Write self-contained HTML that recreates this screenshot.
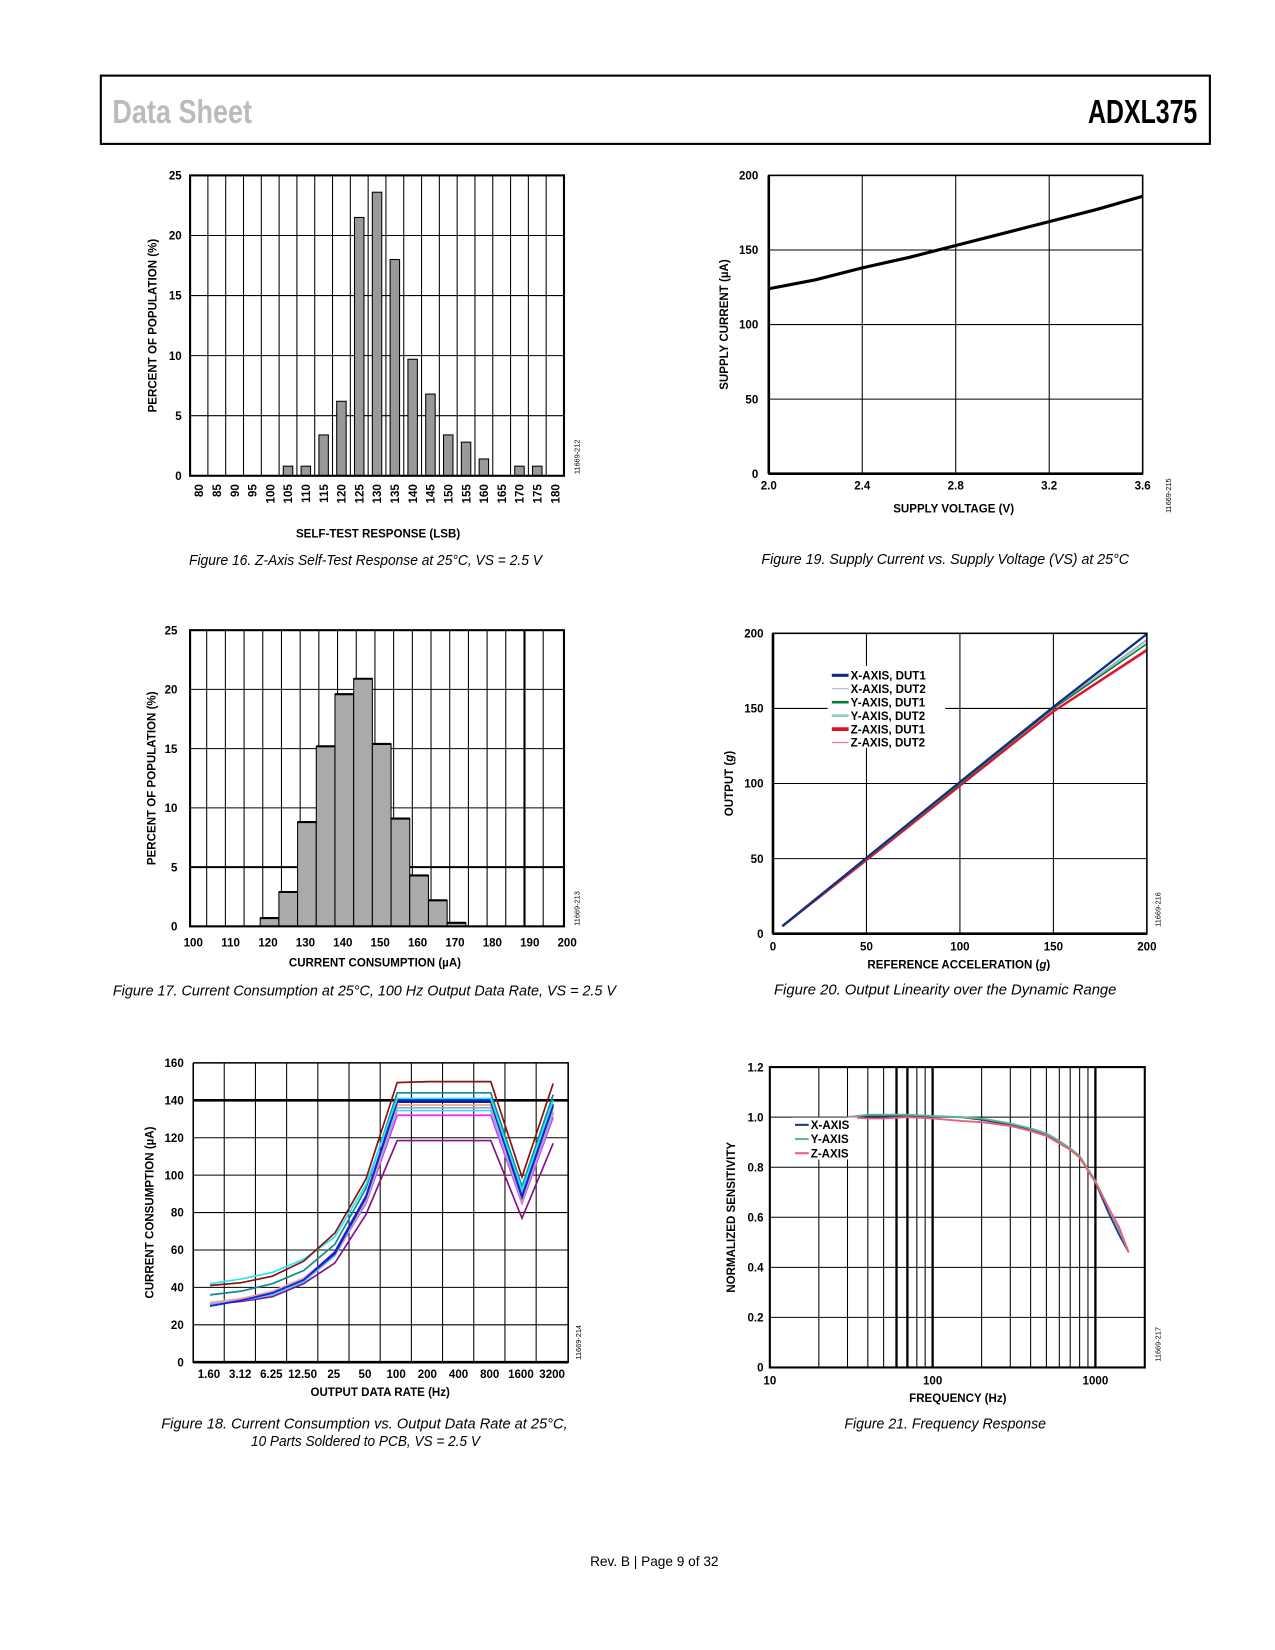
<!DOCTYPE html>
<html><head><meta charset="utf-8">
<style>
html,body{margin:0;padding:0;background:#fff;}
svg{display:block;}
text{font-family:"Liberation Sans",sans-serif;}
.tk{font-size:11px;font-weight:bold;}
.tt{font-size:11px;font-weight:bold;}
.cap{font-family:"Liberation Sans Narrow","Liberation Sans",sans-serif;font-style:italic;font-size:14px;}
.id{font-size:7px;}
</style></head>
<body>
<svg id="pg" width="1275" height="1650" viewBox="0 0 1214 1571" preserveAspectRatio="none" xmlns="http://www.w3.org/2000/svg">
<rect x="96" y="72" width="1056" height="65" fill="none" stroke="#000" stroke-width="2"/>
<text x="107" y="117" font-family="Liberation Sans Narrow,Liberation Sans,sans-serif" font-weight="bold" font-size="32" fill="#bbb" textLength="133" lengthAdjust="spacingAndGlyphs">Data Sheet</text>
<text x="1036" y="117" font-family="Liberation Sans Narrow,Liberation Sans,sans-serif" font-weight="bold" font-size="32" fill="#000" textLength="104" lengthAdjust="spacingAndGlyphs">ADXL375</text>
<text x="623" y="1491" text-anchor="middle" font-size="13">Rev. B | Page 9 of 32</text>
<g id="content"></g>
</svg>
<script>
// ---------- DATA ----------
const f16Cats=[80,85,90,95,100,105,110,115,120,125,130,135,140,145,150,155,160,165,170,175,180];
const f16Vals=[0,0,0,0,0,0.8,0.8,3.4,6.2,21.5,23.6,18,9.7,6.8,3.4,2.8,1.4,0,0.8,0.8,0];
const f16YTicks=[0,5,10,15,20,25];

const f17BinStarts=[118.75,123.75,128.75,133.75,138.75,143.75,148.75,153.75,158.75,163.75,168.75];
const f17Vals=[0.7,2.9,8.8,15.2,19.6,20.9,15.4,9.1,4.3,2.2,0.3];
const f17XTicks=[100,110,120,130,140,150,160,170,180,190,200];
const f17YTicks=[0,5,10,15,20,25];

const f18Cats=["1.60","3.12","6.25","12.50","25","50","100","200","400","800","1600","3200"];
const f18S1=[41,42.5,46,54,69,98,149.5,150,150,150,99,149];
const f18S2=[42,44.5,48,55,67,95,141,141,141,141,92,140];
const f18S3=[36,38,42,49,63,93,144,144,144,144,94,143];
const f18S4=[30,33,37,44,59,89,140,140,140,140,89,138];
const f18S5=[30,33,37,44,58,88,139,139,139,139,88,137];
const f18S6=[32,34,38,45,58,87,137.5,137.5,137.5,137.5,87,136];
const f18S7=[31,33.5,37,44,57,87,136,136,136,136,86,134];
const f18S8=[31,33,36,43,57,86,134.5,134.5,134.5,134.5,86,133];
const f18S9=[31,33,36,43,57,85,132,132,132,132,85,131];
const f18S10=[31,32.5,35,42,53,79,118.5,118.5,118.5,118.5,77,117];
const f18YTicks=[0,20,40,60,80,100,120,140,160];

const f19X=[2.0,2.2,2.4,2.6,2.8,3.0,3.2,3.4,3.6];
const f19Y=[124,130,138,145,153,161,169,177,186];
const f19XTicks=[2.0,2.4,2.8,3.2,3.6];
const f19YTicks=[0,50,100,150,200];

const f20X=[5,50,100,150,200];
const f20X1=[5,50.5,101,151,199.5];
const f20X2=[5,50,100.5,150.5,196];
const f20Y1=[5,50,100,150,193];
const f20Y2=[5,50,100,150,195];
const f20Z1=[5,49,98.5,148,189];
const f20Z2=[5,49,98,147.5,188];
const f20Ticks=[0,50,100,150,200];

const f21F=[30,40,50,70,100,150,200,300,400,500,600,700,800,1000,1200,1400,1600];
const f21X=[1.0,1.005,1.005,1.005,1.003,1.0,0.99,0.97,0.95,0.93,0.90,0.87,0.84,0.74,0.62,0.53,0.46];
const f21Y=[1.0,1.01,1.01,1.01,1.005,1.0,0.995,0.975,0.955,0.935,0.905,0.875,0.845,0.745,0.64,0.55,0.46];
const f21Z=[1.0,0.995,0.995,1.0,0.995,0.985,0.98,0.965,0.945,0.925,0.895,0.87,0.84,0.74,0.64,0.56,0.46];
const f21YTicks=[0,0.2,0.4,0.6,0.8,1.0,1.2];

// ---------- HELPERS ----------
const NS="http://www.w3.org/2000/svg";
const root=document.getElementById('content');
function mk(tag,a,parent){const e=document.createElementNS(NS,tag);for(const k in a)e.setAttribute(k,a[k]);(parent||root).appendChild(e);return e;}
function txt(x,y,s,cls,anchor,rot,tl){const e=mk('text',{x:x,y:y,'class':cls,'text-anchor':anchor||'middle'});if(rot)e.setAttribute('transform','rotate(-90 '+x+' '+y+')');if(tl){e.setAttribute('textLength',tl);e.setAttribute('lengthAdjust','spacingAndGlyphs');}e.textContent=s;return e;}
function lin(x1,y1,x2,y2,w){return mk('line',{x1:x1,y1:y1,x2:x2,y2:y2,stroke:'#000','stroke-width':w||1});}

// ---------- FIG 16 ----------
(function(){
const L=181,R=537,T=167,B=453;
const cw=(R-L)/f16Cats.length;
const xc=i=>L+cw*(i+0.5);
const y=v=>B-(v/25)*(B-T);
for(let i=1;i<f16Cats.length;i++){const g=lin(L+cw*i,T,L+cw*i,B,1);}
f16YTicks.forEach(t=>{const g=lin(L,y(t),R,y(t),1);
 const l=txt(L-8,y(t)+4,String(t),'tk','end');});
f16Vals.forEach((v,i)=>{if(v<=0)return;const b=mk('rect',{x:xc(i)-4.5,y:y(v),width:9,height:B-y(v),fill:'#999',stroke:'#000','stroke-width':1});
 });
f16Cats.forEach((c,i)=>{const l=txt(xc(i)+4,B+8,String(c),'tk','end',true);});
const fr=mk('rect',{x:L,y:T,width:R-L,height:B-T,fill:'none',stroke:'#000','stroke-width':2});
let t=txt(149,(T+B)/2,'PERCENT OF POPULATION (%)','tt','middle',true);
t=txt(360,512,'SELF-TEST RESPONSE (LSB)','tt');
t=txt(348,538,'Figure 16. Z-Axis Self-Test Response at 25°C, VS = 2.5 V','cap','middle',false,336);
t=txt(552,435,'11669-212','id','middle',true);
})();

// ---------- FIG 17 ----------
(function(){
const L=181,R=537,T=600,B=882;
const x=v=>L+(v-100)/100*(R-L);
const y=v=>B-(v/25)*(B-T);
for(let v=105;v<200;v+=5){const w=(v===190)?2:1;const g=lin(x(v)-2,T,x(v)-2,B,w);}
f17YTicks.forEach(t=>{const g=lin(L,y(t),R,y(t),t===5?2:1);
 const l=txt(L-12,y(t)+4,String(t),'tk','end');});
f17Vals.forEach((v,i)=>{const b=mk('rect',{x:x(f17BinStarts[i]),y:y(v),width:x(f17BinStarts[i]+5)-x(f17BinStarts[i]),height:B-y(v),fill:'#aaa',stroke:'#000','stroke-width':1});
 
 const tp=lin(x(f17BinStarts[i]),y(v),x(f17BinStarts[i]+5),y(v),2);});
f17XTicks.forEach(t=>{const l=txt(x(t)+3,B+19,String(t),'tk');});
const fr=mk('rect',{x:L,y:T,width:R-L,height:B-T,fill:'none',stroke:'#000','stroke-width':2});
let t=txt(148,(T+B)/2,'PERCENT OF POPULATION (%)','tt','middle',true);
t=txt(357,920,'CURRENT CONSUMPTION (µA)','tt');
t=txt(347,948,'Figure 17. Current Consumption at 25°C, 100 Hz Output Data Rate, VS = 2.5 V','cap','middle',false,479);
t=txt(552,865,'11669-213','id','middle',true);
})();

// ---------- FIG 18 ----------
(function(){
const L=184,R=541,T=1012,B=1297;
const step=29.7,x0=200;
const x=i=>x0+i*step;
const y=v=>B-(v/160)*(B-T);
for(let i=0;i<11;i++){const g=lin(x(i)+13.5,T,x(i)+13.5,B,1);}
f18YTicks.forEach(t=>{const g=lin(L,y(t),R,y(t),t===140?2.5:1);
 const l=txt(L-9,y(t)+4,String(t),'tk','end');});
const series=[f18S1,f18S2,f18S3,f18S4,f18S5,f18S6,f18S7,f18S8,f18S9,f18S10];
const cols=['#8b1010','#22e8f0','#108a8a','#1a1aff','#1a237e','#f4a98a','#7fb0e0','#40d8e0','#ff22ff','#88108a'];
series.slice().reverse().forEach((s,ri)=>{const k=series.length-1-ri;
 const p=mk('polyline',{points:s.map((v,i)=>x(i)+','+y(v)).join(' '),fill:'none',stroke:cols[k],'stroke-width':1.6});
 });
f18Cats.forEach((c,i)=>{const l=txt(x(i)-1,B+15,c,'tk');});
const fr=mk('polyline',{points:L+','+T+' '+R+','+T+' '+R+','+B+' '+L+','+B+' '+L+','+T,fill:'none',stroke:'#000','stroke-width':1.5});
const bx=lin(L,B,R,B,2.5);
let t=txt(146,(T+B)/2,'CURRENT CONSUMPTION (µA)','tt','middle',true);
t=txt(362,1329,'OUTPUT DATA RATE (Hz)','tt');
t=txt(347,1360,'Figure 18. Current Consumption vs. Output Data Rate at 25°C,','cap','middle',false,387);
t=txt(348,1377,'10 Parts Soldered to PCB, VS = 2.5 V','cap','middle',false,218);
t=txt(553,1278,'11669-214','id','middle',true);
})();

// ---------- FIG 19 ----------
(function(){
const L=732,R=1088,T=167,B=451;
const x=v=>L+(v-2)/1.6*(R-L);
const y=v=>B-(v/200)*(B-T);
f19XTicks.forEach(t=>{if(t>2&&t<3.6){const g=lin(x(t),T,x(t),B,1);}
 const l=txt(x(t),B+15,t.toFixed(1),'tk');});
f19YTicks.forEach(t=>{const g=lin(L,y(t),R,y(t),1);
 const l=txt(L-10,y(t)+4,String(t),'tk','end');});
const p=mk('polyline',{points:f19X.map((v,i)=>x(v)+','+y(f19Y[i])).join(' '),fill:'none',stroke:'#000','stroke-width':3});

const fr=mk('rect',{x:L,y:T,width:R-L,height:B-T,fill:'none',stroke:'#000','stroke-width':1.5});
const ax=lin(L,T,L,B,2.5);
const bx=lin(L,B,R,B,2.5);
let t=txt(693,(T+B)/2,'SUPPLY CURRENT (µA)','tt','middle',true);
t=txt(908,488,'SUPPLY VOLTAGE (V)','tt');
t=txt(900,537,'Figure 19. Supply Current vs. Supply Voltage (VS) at 25°C','cap','middle',false,350);
t=txt(1115,472,'11669-215','id','middle',true);
})();

// ---------- FIG 20 ----------
(function(){
const L=736,R=1092,T=603,B=889;
const x=v=>L+(v/200)*(R-L);
const y=v=>B-(v/200)*(B-T);
f20Ticks.forEach(t=>{if(t>0&&t<200){const g=lin(x(t),T,x(t),B,1);
 const h=lin(L,y(t),R,y(t),1);}
 const l=txt(x(t),B+16,String(t),'tk');
 const m=txt(L-9,y(t)+4,String(t),'tk','end');});
const ss=[f20Z2,f20Z1,f20Y2,f20Y1,f20X2,f20X1];
const cols=['#f07080','#e0102a','#90cfb0','#0a7a3a','#a0a8d0','#0f2f80'];
const ws=[1,2.2,1.5,1.5,1,2.2];
const nm=['z-dut2','z-dut1','y-dut2','y-dut1','x-dut2','x-dut1'];
ss.forEach((s,k)=>{const p=mk('polyline',{points:f20X.map((v,i)=>x(v)+','+y(s[i])).join(' '),fill:'none',stroke:cols[k],'stroke-width':ws[k]});
 });
const lg=mk('rect',{x:788,y:634,width:112,height:78,fill:'#fff'});
const labs=['X-AXIS, DUT1','X-AXIS, DUT2','Y-AXIS, DUT1','Y-AXIS, DUT2','Z-AXIS, DUT1','Z-AXIS, DUT2'];
const lc=['#0f2f80','#a0a8d0','#0a7a3a','#90cfb0','#e0102a','#f07080'];
const lw=[3,1,2.5,2.5,3.5,1];
labs.forEach((s,i)=>{const yy=643+i*12.8;const a=mk('line',{x1:792,y1:yy,x2:808,y2:yy,stroke:lc[i],'stroke-width':lw[i]});
 
 const l=txt(810,yy+4,s,'tk','start');});
const fr=mk('rect',{x:L,y:T,width:R-L,height:B-T,fill:'none',stroke:'#000','stroke-width':1.5});
const ax=lin(L,T,L,B,2.5);
const bx=lin(L,B,R,B,2.5);
let t=mk('text',{x:698,y:(T+B)/2,'class':'tt','text-anchor':'middle',transform:'rotate(-90 698 '+((T+B)/2)+')'});t.innerHTML='OUTPUT (<tspan font-style="italic">g</tspan>)';

t=mk('text',{x:913,y:922,'class':'tt','text-anchor':'middle'});t.innerHTML='REFERENCE ACCELERATION (<tspan font-style="italic">g</tspan>)';

t=txt(900,947,'Figure 20. Output Linearity over the Dynamic Range','cap','middle',false,326);
t=txt(1105,866,'11669-216','id','middle',true);
})();

// ---------- FIG 21 ----------
(function(){
const L=733,R=1090,T=1016,B=1302;
const dec=155;
const x=f=>L+Math.log10(f/10)*dec;
const y=v=>B-(v/1.2)*(B-T);
const thick=[60,70,100,1000];
[20,30,40,50,60,70,80,90,100,200,300,400,500,600,700,800,900,1000].forEach(f=>{
 const g=lin(x(f),T,x(f),B,thick.indexOf(f)>=0?2.2:1);});
f21YTicks.forEach(t=>{if(t>0&&t<1.2){const g=lin(L,y(t),R,y(t),1);}
 const l=txt(L-6,y(t)+4,t===0?'0':t.toFixed(1),'tk','end');});
[[10,'10'],[100,'100'],[1000,'1000']].forEach(a=>{const l=txt(x(a[0]),B+16,a[1],'tk');});
const ss=[f21X,f21Y,f21Z];const cols=['#1a3c8a','#5fb88a','#e8607a'];const nm=['x-axis','y-axis','z-axis'];
ss.forEach((s,k)=>{const p=mk('polyline',{points:f21F.map((f,i)=>x(f)+','+y(s[i])).join(' '),fill:'none',stroke:cols[k],'stroke-width':1.8});
 });
const lg=mk('rect',{x:754,y:1064,width:62,height:40,fill:'#fff'});
['X-AXIS','Y-AXIS','Z-AXIS'].forEach((s,i)=>{const yy=1071+i*13.5;const a=mk('line',{x1:757,y1:yy,x2:770,y2:yy,stroke:cols[i],'stroke-width':2});
 
 const l=txt(772,yy+4,s,'tk','start');});
const fr=mk('rect',{x:L,y:T,width:R-L,height:B-T,fill:'none',stroke:'#000','stroke-width':2});
let t=txt(700,(T+B)/2,'NORMALIZED SENSITIVITY','tt','middle',true);
t=txt(912,1335,'FREQUENCY (Hz)','tt');
t=txt(900,1360,'Figure 21. Frequency Response','cap','middle',false,192);
t=txt(1105,1280,'11669-217','id','middle',true);
})();
</script>
</body></html>
